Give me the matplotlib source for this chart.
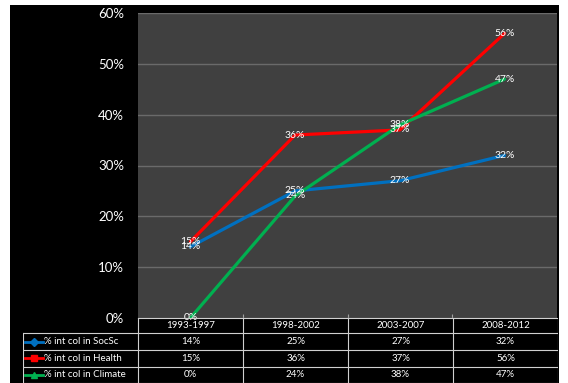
import matplotlib.pyplot as plt
from matplotlib.patches import Rectangle

periods = ["1993-1997", "1998-2002", "2003-2007", "2008-2012"]
series_names = ["% int col in SocSc", "% int col in Health", "% int col in Climate"]
socsc = [14, 25, 27, 32]
health = [15, 36, 37, 56]
climate = [0, 24, 38, 47]
yticks = [0, 10, 20, 30, 40, 50, 60]

colors = ["#0070c0", "#ff0000", "#00b050"]
markers = ["D", "s", "^"]
values = [socsc, health, climate]

W, H = 568, 383
plt.rcParams["font.family"] = ["Lato", "DejaVu Sans"]
fig = plt.figure(figsize=(W / 100, H / 100), dpi=100)
fig.patch.set_facecolor("white")

# black slide background
fig.patches.append(Rectangle((10 / W, 0), 549 / W, 378 / H, transform=fig.transFigure,
                             facecolor="black", edgecolor="none", zorder=-1))

def px_axes(x0, y0, x1, y1):
    # y measured from top, in pixels
    return fig.add_axes([x0 / W, 1 - y1 / H, (x1 - x0) / W, (y1 - y0) / H])

# main chart
ax = px_axes(138, 13, 557, 318)
ax.set_facecolor("#404040")
ax.set_xlim(-0.5, 3.5)
ax.set_ylim(0, 60)
ax.set_yticks(yticks)
ax.set_yticklabels([f"{t}%" for t in yticks], color="white", fontsize=9.5)
ax.tick_params(axis="y", length=0, pad=10)
ax.set_xticks([0.5, 1.5, 2.5])
ax.set_xticklabels([])
ax.tick_params(axis="x", direction="in", length=3, color="#a0a0a0")
ax.grid(axis="y", color="#6a6a6a", lw=1)
ax.set_axisbelow(True)
for s in ax.spines.values():
    s.set_visible(False)

x = range(len(periods))
for vals, c in zip(values, colors):
    ax.plot(x, vals, color=c, lw=2.3, solid_capstyle="round", zorder=3)
for vals, c in zip(values, colors):
    for xi, v in zip(x, vals):
        ax.text(xi, v, f"{v}%", color="white", fontsize=7.5, ha="center", va="center", zorder=4)

# data table
tab = px_axes(23, 318, 558, 383)
tab.set_facecolor("none")
tab.set_xlim(-0.5 - 115 / 105, 3.5)
tab.set_ylim(0, 65)
tab.axis("off")
edges = [65, 50, 33, 16.5, 0]
lc = "#d0d0d0"
lab_left = -0.5 - 115 / 105
# horizontal lines
tab.plot([-0.5, 3.5], [65, 65], color=lc, lw=0.8)
for e in edges[1:]:
    tab.plot([lab_left, 3.5], [e, e], color=lc, lw=0.8)
# vertical lines
for xv in [-0.5, 0.5, 1.5, 2.5, 3.5]:
    tab.plot([xv, xv], [0, 65], color=lc, lw=0.8)
tab.plot([lab_left, lab_left], [0, 50], color=lc, lw=0.8)

for i, p in enumerate(periods):
    tab.text(i, (edges[0] + edges[1]) / 2, p, color="white", fontsize=7, ha="center", va="center")
for r, (name, vals, c, m) in enumerate(zip(series_names, values, colors, markers)):
    yc = (edges[r + 1] + edges[r + 2]) / 2
    k0 = lab_left + 2 / 105
    k1 = lab_left + 20 / 105
    tab.plot([k0, k1], [yc, yc], color=c, lw=2)
    tab.plot([(k0 + k1) / 2], [yc], marker=m, color=c, ms=4)
    tab.text(k1 + 1 / 105, yc, name, color="white", fontsize=7, ha="left", va="center")
    for i, v in enumerate(vals):
        tab.text(i, yc, f"{v}%", color="white", fontsize=7, ha="center", va="center")

fig.savefig("out.png", dpi=100, facecolor=fig.get_facecolor())
